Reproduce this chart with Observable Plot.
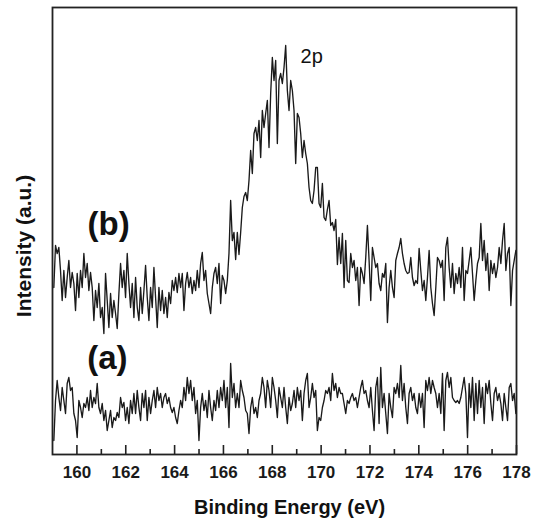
<!DOCTYPE html>
<html><head><meta charset="utf-8">
<script src="https://cdn.jsdelivr.net/npm/d3@7"></script>
<script src="https://cdn.jsdelivr.net/npm/@observablehq/plot@0.6"></script>
<style>html,body{margin:0;padding:0;background:#fff} svg{display:block}</style>
</head><body><div id="chart"></div>
<script>
// sampling grid of the spectra (binding energy, eV)
const energyStart = 159.055;
const energyStep = 0.0683;

// spectrum (a): intensity, a.u.
const intensityA = [
14,54,74,57,44,67,54,41,71,77,
64,67,41,34,17,54,47,37,51,47,
57,44,64,47,57,51,71,47,41,51,
34,44,24,34,44,27,37,34,42,37,
57,47,52,34,47,31,54,41,61,41,
64,47,34,61,47,64,34,57,41,54,
64,47,67,54,61,47,57,61,51,57,
47,42,47,37,31,44,54,47,67,54,
77,61,74,54,67,41,54,14,47,61,
44,54,37,64,47,34,54,44,64,47,
67,54,74,47,67,27,91,57,71,47,
61,47,74,64,57,44,41,21,47,57,
41,47,37,54,61,77,67,47,74,64,
47,77,67,54,37,67,57,47,67,47,
31,57,44,
51,64,47,67,54,64,34,61,74,81,
47,57,71,57,64,24,37,34,47,54,
64,61,67,54,81,64,71,57,67,61,
61,51,41,54,51,57,61,54,57,47,
57,67,74,61,64,54,47,67,44,24,
67,77,31,87,47,61,41,21,61,47,
37,67,61,71,57,89,54,71,47,31,
61,67,54,61,47,41,61,47,61,27,
74,64,77,61,74,67,61,47,61,41,
81,24,74,82,67,77,57,54,52,54,
51,57,67,77,61,17,71,47,77,34,
71,41,74,47,67,31,71,61,74,51,
34,61,67,54,61,51,34,61,47,34,
67,71,54,61,41
];

// spectrum (b): intensity, a.u.
const intensityB = [
167,209,201,207,184,154,184,157,177,194,
167,182,171,144,181,157,184,167,201,177,
191,164,182,167,134,164,147,171,137,147,
121,181,154,127,161,137,154,141,126,161,
191,167,184,157,201,171,147,171,137,177,
147,134,167,141,164,189,157,134,167,147,
187,157,127,167,144,164,141,157,137,162,
151,174,164,177,162,181,167,181,144,171,
182,167,177,161,174,164,184,167,191,202,
174,184,161,151,141,167,181,187,171,191,
151,179,174,161,174,201,
254,214,222,195,222,200,222,247,258,262,
254,274,304,281,321,327,314,334,297,344,
327,341,354,307,361,397,374,394,311,374,
381,371,387,409,364,344,374,
364,344,291,341,337,321,297,314,301,291,
267,254,251,264,287,287,251,247,271,237,
234,245,254,229,232,224,235,190,217,191,
221,167,214,174,172,201,187,194,174,187,
149,187,181,171,197,229,194,154,207,197,
187,191,171,164,181,177,191,132,167,184,
167,157,194,201,207,216,201,191,184,181,
182,197,177,169,174,171,206,184,164,174,
154,177,204,167,151,139,167,197,194,187,
194,154,207,217,187,167,191,161,181,171,
187,167,207,154,184,181,194,207,181,154,
174,191,197,231,194,214,184,201,164,194,
181,191,177,187,207,191,214,231,184,201,
207,149,184,194,204
];

const majorTicks = [160,162,164,166,168,170,172,174,176,178];
const minorTicks = [161,163,165,167,169,171,173,175,177];

const seriesLabels = [
  {name: "(a)", energy: 161.25, intensity: 96},
  {name: "(b)", energy: 161.3, intensity: 230}
];
const peakLabels = [{name: "2p", energy: 169.16, intensity: 398}];

const xTitle = "Binding Energy (eV)";
const yTitle = "Intensity (a.u.)";

const toRows = (values, series) =>
  values.map((v, i) => ({energy: energyStart + i * energyStep, intensity: v, series}));
const spectra = [...toRows(intensityA, "a"), ...toRows(intensityB, "b")];

const font = "'Liberation Sans', Arial, Helvetica, sans-serif";
const plotH = 521 - 7 - 67;

const chart = Plot.plot({
  width: 537,
  height: 521,
  marginLeft: 52,
  marginRight: 21,
  marginTop: 7,
  marginBottom: 67,
  style: {fontFamily: font, background: "#fff", color: "#1a1a1a"},
  x: {domain: [159, 178]},
  y: {domain: [0, 447]},
  marks: [
    Plot.line(spectra, {x: "energy", y: "intensity", z: "series", stroke: "#1a1a1a", strokeWidth: 1.35}),
    // inward tick marks along the bottom edge
    Plot.ruleX(majorTicks, {x: d => d, insetTop: plotH - 9, stroke: "#222", strokeWidth: 1.6}),
    Plot.ruleX(minorTicks, {x: d => d, insetTop: plotH - 5, stroke: "#222", strokeWidth: 1.6}),
    Plot.axisX(majorTicks, {tickSize: 0, tickPadding: 11, tickFormat: d => String(d), label: null, fontSize: 17, fontWeight: "bold", fill: "#1a1a1a"}),
    Plot.axisY({ticks: [], label: null, tickSize: 0}),
    Plot.frame({stroke: "#222", strokeWidth: 1.8}),
    Plot.text(seriesLabels, {x: "energy", y: "intensity", text: "name", fontSize: 33, fontWeight: "bold", fill: "#111"}),
    Plot.text(peakLabels, {x: "energy", y: "intensity", text: "name", fontSize: 20, textAnchor: "start", fill: "#111"}),
    Plot.text([xTitle], {text: d => d, frameAnchor: "bottom", dx: 5, dy: 45, lineAnchor: "top", fontSize: 20, fontWeight: "bold", fill: "#111"}),
    Plot.text([yTitle], {text: d => d, frameAnchor: "left", textAnchor: "middle", rotate: -90, dx: -28, dy: 15, fontSize: 21, fontWeight: "bold", fill: "#111"})
  ]
});
document.getElementById("chart").appendChild(chart);
</script>
</body></html>
